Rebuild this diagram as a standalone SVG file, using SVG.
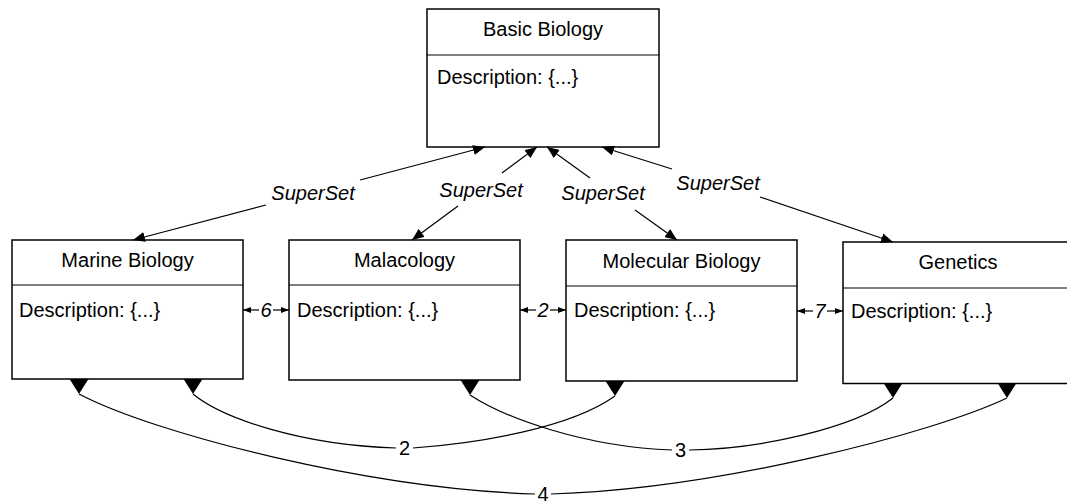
<svg xmlns="http://www.w3.org/2000/svg" width="1067" height="504" viewBox="0 0 1067 504">
<style>
.box{fill:#fff;stroke:#000;stroke-width:1.5}
.div{stroke:#000;stroke-width:1.2}
.t{font-family:"Liberation Sans",Arial,sans-serif;font-size:20px;fill:#000}
.c{text-anchor:middle}
.i{font-style:italic}
.ln{fill:none;stroke:#000;stroke-width:1.2}
</style>
<defs>
<marker id="ah" viewBox="0 0 12 10" refX="12" refY="5" markerWidth="12" markerHeight="10" markerUnits="userSpaceOnUse" orient="auto-start-reverse"><path d="M0,0L12,5L0,10z" fill="#000"/></marker>
<marker id="sh" viewBox="0 0 8 6" refX="8" refY="3" markerWidth="8" markerHeight="6" markerUnits="userSpaceOnUse" orient="auto-start-reverse"><path d="M0,0L8,3L0,6z" fill="#000"/></marker>
<marker id="dn" viewBox="0 0 19 15" refX="9.5" refY="15" markerWidth="19" markerHeight="15" markerUnits="userSpaceOnUse" orient="0"><path d="M0,0L19,0L9.5,15z" fill="#000"/></marker>
</defs>
<g id="basic">
<rect class="box" x="427" y="9" width="232" height="138"/>
<line class="div" x1="427" y1="55" x2="659" y2="55"/>
<text class="t c" x="543" y="36">Basic Biology</text>
<text class="t" x="437" y="84">Description: {...}</text>
</g>
<g id="marine">
<rect class="box" x="12" y="240" width="231" height="139"/>
<line class="div" x1="12" y1="285" x2="243" y2="285"/>
<text class="t c" x="127.5" y="267">Marine Biology</text>
<text class="t" x="19" y="317">Description: {...}</text>
</g>
<g id="malacology">
<rect class="box" x="289" y="240" width="231" height="140"/>
<line class="div" x1="289" y1="285" x2="520" y2="285"/>
<text class="t c" x="404.5" y="267">Malacology</text>
<text class="t" x="297" y="317">Description: {...}</text>
</g>
<g id="molecular">
<rect class="box" x="566" y="240" width="231" height="141"/>
<line class="div" x1="566" y1="286" x2="797" y2="286"/>
<text class="t c" x="681.5" y="268">Molecular Biology</text>
<text class="t" x="574" y="317">Description: {...}</text>
</g>
<g id="genetics">
<rect class="box" x="843" y="242" width="240" height="141.5"/>
<line class="div" x1="843" y1="288" x2="1067" y2="288"/>
<text class="t c" x="958" y="269">Genetics</text>
<text class="t" x="851" y="318">Description: {...}</text>
</g>
<g id="connectors">
<path class="ln" d="M485,147L360,180" marker-start="url(#ah)"/>
<path class="ln" d="M266,205L133,240" marker-end="url(#ah)"/>
<text class="t c i" x="313" y="200">SuperSet</text>
<path class="ln" d="M537,147L502,173" marker-start="url(#ah)"/>
<path class="ln" d="M458,206L412,240" marker-end="url(#ah)"/>
<text class="t c i" x="481" y="197">SuperSet</text>
<path class="ln" d="M547,147L590,178" marker-start="url(#ah)"/>
<path class="ln" d="M635,210L677,240" marker-end="url(#ah)"/>
<text class="t c i" x="603" y="200">SuperSet</text>
<path class="ln" d="M602,147L672,169" marker-start="url(#ah)"/>
<path class="ln" d="M760,197L893,242" marker-end="url(#ah)"/>
<text class="t c i" x="718" y="190">SuperSet</text>
<path class="ln" d="M243,310L259,310" marker-start="url(#sh)"/>
<path class="ln" d="M273,310L289,310" marker-end="url(#sh)"/>
<text class="t c i" x="266" y="317">6</text>
<path class="ln" d="M520,310L536,310" marker-start="url(#sh)"/>
<path class="ln" d="M550,310L566,310" marker-end="url(#sh)"/>
<text class="t c i" x="543" y="317">2</text>
<path class="ln" d="M797,311L813,311" marker-start="url(#sh)"/>
<path class="ln" d="M827,311L843,311" marker-end="url(#sh)"/>
<text class="t c" x="820" y="318" font-style="italic">7</text>
<path class="ln" d="M193,394C222,418 300,445 396,448" marker-start="url(#dn)"/>
<path class="ln" d="M413,448C480,443 570,428 615,396" marker-end="url(#dn)"/>
<text class="t c" x="404.5" y="455">2</text>
<path class="ln" d="M470,395C505,418 585,447 672,450" marker-start="url(#dn)"/>
<path class="ln" d="M689,450C760,449 855,428 893,398" marker-end="url(#dn)"/>
<text class="t c" x="680.5" y="457">3</text>
<path class="ln" d="M79,394C155,434 370,489 535,494" marker-start="url(#dn)"/>
<path class="ln" d="M551,494C716,489 931,434 1007,398" marker-end="url(#dn)"/>
<text class="t c" x="543" y="501">4</text>
</g>
</svg>
